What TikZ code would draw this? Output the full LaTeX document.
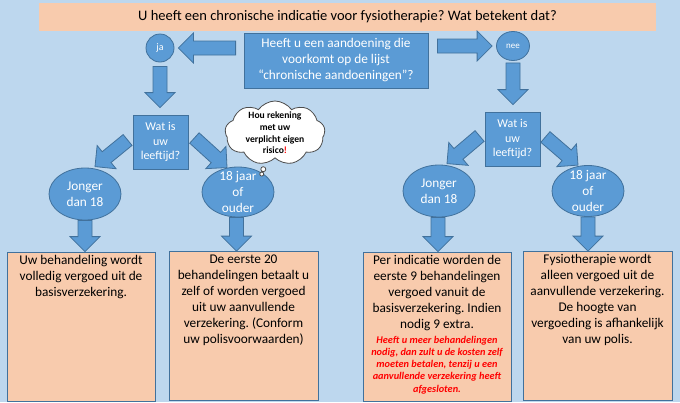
\documentclass[tikz,border=0pt]{standalone}
\usepackage{fontspec}
\setmainfont{Carlito}
\frenchspacing
\usetikzlibrary{calc,shapes.geometric,shapes.callouts}

\definecolor{achtergrond}{HTML}{BDD7EE}
\definecolor{zalm}{HTML}{F8CBAD}
\definecolor{blauw}{HTML}{5B9BD5}
\definecolor{donkerblauw}{HTML}{41719C}

\newcommand{\vaktekst}[1]{\parbox[c][143pt][t]{142pt}{\centering #1}}
\newcommand{\blokpijl}[2]{%
  \coordinate (p-start) at #1;
  \coordinate (p-punt) at #2;
  \coordinate (p-kop) at ($(p-punt)!15pt!(p-start)$);
  \draw[pijl] ($(p-start)!7pt!90:(p-punt)$) -- ($(p-kop)!7pt!90:(p-punt)$)
    -- ($(p-kop)!15pt!90:(p-punt)$) -- (p-punt) -- ($(p-kop)!15pt!-90:(p-punt)$)
    -- ($(p-kop)!7pt!-90:(p-punt)$) -- ($(p-start)!7pt!-90:(p-punt)$) -- cycle;}

\begin{document}
\begin{tikzpicture}[x=1pt, y=-1pt,
    blok/.style={draw=donkerblauw, line width=0.8pt, fill=blauw, text=white},
    pijl/.style={draw=donkerblauw, line width=0.8pt, fill=blauw},
    bol/.style={blok, ellipse, inner sep=0, minimum width=72, minimum height=52},
    boltekst/.style={text=white, align=center, inner sep=0, font=\fontsize{13.3}{16}\selectfont},
    vraagblok/.style={blok, inner sep=0, minimum width=55, minimum height=54, align=center, font=\fontsize{12}{14.3}\selectfont},
    uitleg/.style={draw=donkerblauw, line width=0.8pt, fill=zalm, inner sep=3pt, minimum width=148, minimum height=149, font=\fontsize{13.3}{16}\selectfont},
    wolktekst/.style={align=center, inner sep=0, font=\fontsize{9.6}{11.7}\selectfont\bfseries}]
    \useasboundingbox (0,0) rectangle (680,402);
    \fill[achtergrond] (0,0) rectangle (680,402);

    % Titel en eerste vraag
    \node[fill=zalm, minimum width=617, minimum height=28, font=\fontsize{14.5}{17}\selectfont] (titel) at (347.5,17) {U heeft een chronische indicatie voor fysiotherapie? Wat betekent dat?};
    \node[blok, minimum width=184, minimum height=55, align=center, font=\fontsize{13.3}{16}\selectfont] (vraag) at (336,60.5) {Heeft u een aandoening die\\ voorkomt op de lijst\\ “chronische aandoeningen”?};

    \node[blok, circle, minimum size=28, inner sep=0, font=\fontsize{10}{11}\selectfont] (ja) at (160,48) {ja};
    \node[blok, ellipse, minimum width=33, minimum height=29, inner sep=0, font=\fontsize{9}{10}\selectfont] (nee) at (513,46) {nee};

    % Leeftijd
    \node[vraagblok] (leeftijdL) at (160.5,142) {Wat is\\ uw\\ leeftijd?};
    \node[vraagblok] (leeftijdR) at (512.5,139) {Wat is\\ uw\\ leeftijd?};

    \node[bol, label={[boltekst]center:{Jonger\\ dan 18}}] (jongerL) at (85,194) {};
    \node[bol, minimum height=50, label={[boltekst]center:{18 jaar\\ of\\ ouder}}] (ouderL) at (238,192) {};
    \node[bol, label={[boltekst]center:{Jonger\\ dan 18}}] (jongerR) at (439,191) {};
    \node[bol, minimum height=51, label={[boltekst]center:{18 jaar\\ of\\ ouder}}] (ouderR) at (588,191) {};

    % Vergoeding
    \node[uitleg] (vak1) at (81,326.5) {\vaktekst{Uw behandeling wordt\\ volledig vergoed uit de\\ basisverzekering.}};
    \node[uitleg, minimum width=149, minimum height=148] (vak2) at (243.5,326) {\vaktekst{De eerste 20\\ behandelingen betaalt u\\ zelf of worden vergoed\\ uit uw aanvullende\\ verzekering. (Conform\\ uw polisvoorwaarden)}};
    \node[uitleg] (vak3) at (437,326.5) {\vaktekst{Per indicatie worden de\\ eerste 9 behandelingen\\ vergoed vanuit de\\ basisverzekering. Indien\\ nodig 9 extra.\par\vspace{2.5pt}
        {\fontsize{10.3}{12.3}\selectfont\bfseries\itshape\color{red}Heeft u meer behandelingen\\ nodig, dan zult u de kosten zelf\\ moeten betalen, tenzij u een\\ aanvullende verzekering heeft\\ afgesloten.\par}}};
    \node[uitleg, minimum width=149, minimum height=148] (vak4) at (597.5,326) {\vaktekst{Fysiotherapie wordt\\ alleen vergoed uit de\\ aanvullende verzekering.\\ De hoogte van\\ vergoeding is afhankelijk\\ van uw polis.}};

    % Blokpijlen
    \blokpijl{($(vraag.west |- ja)+(-8,0)$)}{($(ja.east)+(4,0)$)}
    \blokpijl{($(vraag.east |- nee)+(9,0)$)}{($(nee.west)+(-4,0)$)}
    \blokpijl{($(ja.south)+(0,4)$)}{($(ja.south |- leeftijdL.north)+(0,-7)$)}
    \blokpijl{($(nee.south)+(0,2)$)}{($(nee.south |- leeftijdR.north)+(0,-7)$)}
    \blokpijl{($(leeftijdL.west)+(-5,-2)$)}{($(jongerL.north)+(10,-1)$)}
    \blokpijl{($(leeftijdL.east)+(6,-4)$)}{($(ouderL.north)+(-11,1)$)}
    \blokpijl{($(leeftijdR.west)+(-5,-3)$)}{($(jongerR.north)+(8,-1)$)}
    \blokpijl{($(leeftijdR.east)+(5,-2)$)}{($(ouderR.north)+(-10,0)$)}
    \blokpijl{(jongerL.south)}{(jongerL.south |- vak1.north)}
    \blokpijl{($(ouderL.south)+(-1.5,0)$)}{($(ouderL.south |- vak2.north)+(-1.5,0)$)}
    \blokpijl{($(jongerR.south)+(-1,0)$)}{($(jongerR.south |- vak3.north)+(-1,0)$)}
    \blokpijl{(ouderR.south)}{(ouderR.south |- vak4.north)}

    % Denkwolk
    \node[cloud callout, draw=black!70, line width=0.8pt, fill=white, cloud puffs=9, cloud puff arc=110, cloud ignores aspect, minimum width=100, minimum height=64, inner sep=0,
        callout absolute pointer={($(ouderL.north east)+(-2,0)$)}, callout pointer start size=6pt, callout pointer end size=4pt, callout pointer segments=2,
        label={[wolktekst]center:{Hou rekening\\ met uw\\ verplicht eigen\\ risico{\color{red}!}}}] (wolk) at (275,133) {};
\end{tikzpicture}
\end{document}
